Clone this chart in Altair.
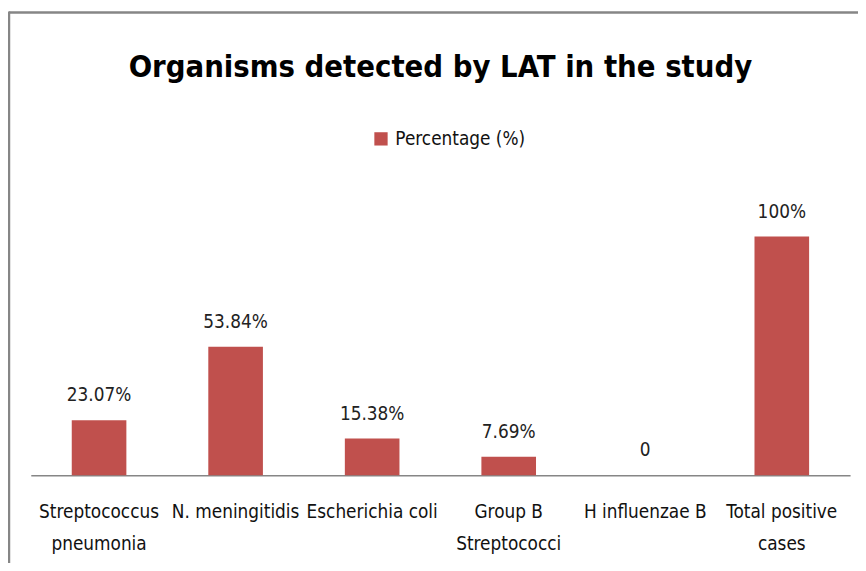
import altair as alt
import pandas as pd

categories = ["Streptococcus|pneumonia", "N. meningitidis", "Escherichia coli",
              "Group B|Streptococci", "H influenzae B", "Total positive|cases"]
values = [23.07, 53.84, 15.38, 7.69, 0, 100]
value_labels = ["23.07%", "53.84%", "15.38%", "7.69%", "0", "100%"]
series_name = "Percentage (%)"
title_text = "Organisms detected by LAT in the study"

FONT = "DejaVu Sans Condensed, Liberation Sans Narrow, sans-serif"
BAR = "#C0504D"
FRAME = "#868686"

df = pd.DataFrame({"cat": categories, "val": values, "lab": value_labels,
                   "series": [series_name] * len(categories)})

x = alt.X("cat:N", sort=categories, title=None,
          scale=alt.Scale(paddingInner=0.6, paddingOuter=0.3),
          axis=alt.Axis(labelAngle=0, labelExpr="split(datum.value, '|')",
                        labelFont=FONT, labelFontSize=19, labelColor="#111",
                        labelLineHeight=32, labelBaseline="alphabetic",
                        labelPadding=43, ticks=False, domainColor=FRAME,
                        domainWidth=1.5, labelLimit=0))
y = alt.Y("val:Q", scale=alt.Scale(domain=[0, 100], nice=False), axis=None)

bars = alt.Chart(df).mark_bar(color=BAR).encode(
    x=x, y=y,
    color=alt.Color("series:N",
                    scale=alt.Scale(domain=[series_name], range=[BAR]),
                    legend=alt.Legend(title=None, orient="none", legendX=344,
                                      legendY=-108, symbolType="square",
                                      symbolSize=180, symbolStrokeWidth=0,
                                      labelFont=FONT, labelFontSize=19,
                                      labelColor="#111", labelOffset=5,
                                      padding=0)))

texts = alt.Chart(df).mark_text(font=FONT, fontSize=19, color="#222",
                                baseline="alphabetic", dy=-19).encode(
    x=alt.X("cat:N", sort=categories), y="val:Q", text="lab:N")

frame_top = alt.Chart(alt.Data(values=[{}])).mark_rule(
    color=FRAME, strokeWidth=2.5).encode(
    x=alt.value(-22), x2=alt.value(840), y=alt.value(-226))
frame_left = alt.Chart(alt.Data(values=[{}])).mark_rule(
    color=FRAME, strokeWidth=2.5).encode(
    x=alt.value(-22), y=alt.value(-227), y2=alt.value(330))

chart = alt.layer(frame_top, frame_left, bars, texts).properties(
    width=827, height=241,
    autosize=alt.AutoSizeParams(type="none"),
    padding={"left": 23, "top": 228, "right": 8, "bottom": 86},
    title=alt.TitleParams(title_text, font=FONT, fontSize=31, fontWeight="bold",
                          color="#000", anchor="middle", frame="group",
                          baseline="alphabetic", offset=0, dy=98),
).configure_view(stroke=None)

chart.save("out.html", embed_options={"renderer": "svg", "actions": False})
